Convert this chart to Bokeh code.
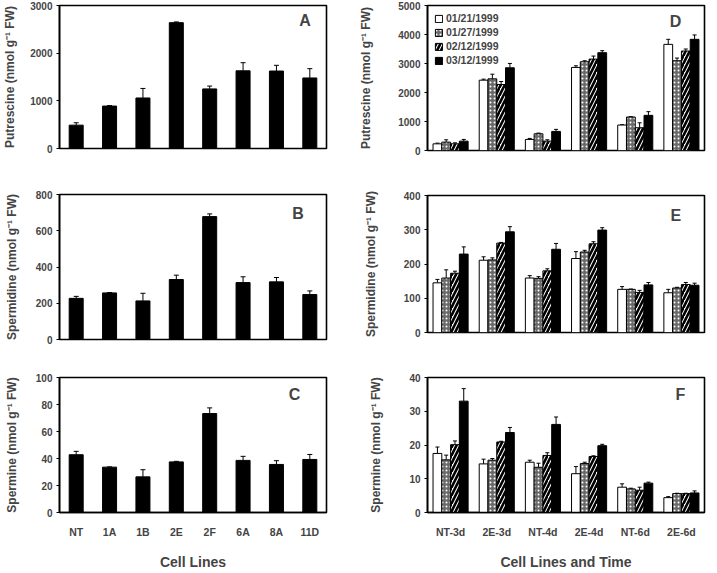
from bokeh.plotting import figure
from bokeh.models import (ColumnDataSource, FactorRange, Range1d, FixedTicker,
                          Whisker, TeeHead, Label, Legend, LegendItem)
from bokeh.transform import dodge
from bokeh.layouts import row, column
from bokeh.embed import file_html
from bokeh.resources import INLINE

FONT = "Liberation Sans"

# ---------------- data: left column (cell lines) ----------------
lines = ["NT", "1A", "1B", "2E", "2F", "6A", "8A", "11D"]
put_a = [490, 890, 1060, 2640, 1250, 1630, 1625, 1480]
put_a_err = [50, 10, 200, 15, 60, 170, 120, 195]
spd_b = [227, 257, 213, 331, 678, 314, 318, 248]
spd_b_err = [11, 2, 42, 24, 15, 32, 24, 20]
spm_c = [42.8, 33.6, 26.4, 37.5, 73.3, 38.6, 35.6, 39.3]
spm_c_err = [2.5, 0.2, 5.3, 0.4, 4.2, 3.0, 2.8, 3.7]

# ---------------- data: right column (cell lines and time) ----------------
groups = ["NT-3d", "2E-3d", "NT-4d", "2E-4d", "NT-6d", "2E-6d"]
dates = ["01/21/1999", "01/27/1999", "02/12/1999", "03/12/1999"]

put_d_jan21 = [230, 2425, 381, 2864, 878, 3660]
put_d_jan27 = [289, 2471, 577, 3060, 1155, 3095]
put_d_feb12 = [231, 2275, 323, 3152, 785, 3430]
put_d_mar12 = [323, 2852, 658, 3372, 1212, 3834]
put_d_jan21_err = [24, 35, 35, 57, 11, 174]
put_d_jan27_err = [80, 160, 23, 35, 11, 92]
put_d_feb12_err = [34, 104, 47, 104, 170, 70]
put_d_mar12_err = [58, 150, 70, 70, 127, 150]

spd_e_jan21 = [145, 211, 159, 216, 126, 116]
spd_e_jan27 = [159, 212, 158, 235, 126, 130]
spd_e_feb12 = [173, 261, 180, 259, 117, 140]
spd_e_mar12 = [229, 294, 243, 299, 139, 138]
spd_e_jan21_err = [10, 10, 7, 20, 8, 10]
spd_e_jan27_err = [24, 6, 5, 5, 1, 2]
spd_e_feb12_err = [6, 2, 6, 6, 6, 6]
spd_e_mar12_err = [21, 15, 17, 7, 7, 6]

spm_f_jan21 = [17.5, 14.4, 14.9, 11.5, 7.5, 4.4]
spm_f_jan27 = [15.6, 15.5, 13.4, 14.5, 7.0, 5.6]
spm_f_feb12 = [20.1, 20.9, 16.9, 16.6, 6.6, 5.6]
spm_f_mar12 = [33.0, 23.7, 26.1, 19.8, 8.7, 5.8]
spm_f_jan21_err = [1.9, 1.4, 0.6, 2.1, 1.0, 0.3]
spm_f_jan27_err = [1.4, 0.5, 1.2, 0.4, 0.2, 0.1]
spm_f_feb12_err = [1.1, 0.2, 0.8, 0.2, 0.9, 0.1]
spm_f_mar12_err = [3.7, 1.5, 2.2, 0.4, 0.3, 0.6]

STYLES = [
    dict(fill_color="white"),
    dict(fill_color="#6a6a6a", hatch_pattern="dot", hatch_color="white",
         hatch_scale=4, hatch_weight=1.2),
    dict(fill_color="white", hatch_pattern="right_diagonal_line",
         hatch_color="black", hatch_scale=8, hatch_weight=2.6),
    dict(fill_color="black"),
]


def base_fig(factors, ytop, yticks, ylabel, width, height, bl, br, bt, bb,
             show_x, xlabel=None, label_standoff=6):
    p = figure(x_range=FactorRange(*factors), y_range=Range1d(0, ytop),
               width=width, height=height, output_backend="svg",
               toolbar_location=None, min_border_left=bl, min_border_right=br,
               min_border_top=bt, min_border_bottom=bb)
    p.grid.visible = False
    p.outline_line_color = "black"
    p.outline_line_width = 1.6
    p.outline_line_alpha = 1
    p.background_fill_color = "white"
    p.border_fill_color = "white"
    ya = p.yaxis[0]
    ya.ticker = FixedTicker(ticks=yticks)
    ya.minor_tick_line_color = None
    ya.major_tick_out = 3
    ya.major_tick_in = 0
    ya.axis_line_width = 1.6
    ya.major_label_text_font = FONT
    ya.major_label_text_font_style = "bold"
    ya.major_label_text_font_size = "10px"
    ya.major_label_standoff = 4
    ya.axis_label = ylabel
    ya.axis_label_text_font = FONT
    ya.axis_label_text_font_style = "bold"
    ya.axis_label_text_font_size = "12px"
    ya.axis_label_standoff = label_standoff
    xa = p.xaxis[0]
    if show_x:
        xa.major_tick_line_color = None
        xa.minor_tick_line_color = None
        xa.axis_line_width = 1.6
        xa.major_label_text_font = FONT
        xa.major_label_text_font_style = "bold"
        xa.major_label_text_font_size = "10.5px"
        xa.major_label_standoff = 7
        xa.axis_label = xlabel
        xa.axis_label_text_font = FONT
        xa.axis_label_text_font_style = "bold"
        xa.axis_label_text_font_size = "14px"
        xa.axis_label_standoff = 13
    else:
        xa.visible = False
    return p


def letter(p, txt, x, y):
    p.add_layout(Label(x=x, y=y, text=txt, text_font=FONT,
                       text_font_style="bold", text_font_size="16px",
                       text_align="center", text_baseline="middle"))


def left_panel(vals, errs, ytop, yticks, ylabel, letter_txt, lx, ly,
               height, bt, bb, ls, show_x=False, xlabel=None):
    p = base_fig(lines, ytop, yticks, ylabel, 356, height, 54, 30, bt, bb,
                 show_x, xlabel, label_standoff=ls)
    src = ColumnDataSource(dict(x=lines, top=vals,
                                up=[v + e for v, e in zip(vals, errs)]))
    p.vbar(x="x", top="top", width=0.42, source=src, fill_color="black",
           line_color="black")
    p.add_layout(Whisker(base="x", upper="up", lower="top", source=src,
                         line_color="black", line_width=1,
                         upper_head=TeeHead(size=5, line_color="black", line_width=1),
                         lower_head=None))
    letter(p, letter_txt, lx, ly)
    return p


def right_panel(series, errs, ytop, yticks, ylabel, letter_txt, lx, ly,
                height, bt, bb, ls, show_x=False, xlabel=None, legend=False):
    p = base_fig(groups, ytop, yticks, ylabel, 353, height, 70, 5, bt, bb,
                 show_x, xlabel, label_standoff=ls)
    offsets = [-0.285, -0.095, 0.095, 0.285]
    items = []
    for i, (vals, er) in enumerate(zip(series, errs)):
        src = ColumnDataSource(dict(x=groups, top=vals,
                                    up=[v + e for v, e in zip(vals, er)]))
        r = p.vbar(x=dodge("x", offsets[i], range=p.x_range), top="top",
                   width=0.19, source=src, line_color="black", line_width=1,
                   **STYLES[i])
        p.add_layout(Whisker(base=dodge("x", offsets[i], range=p.x_range),
                             upper="up", lower="top", source=src,
                             line_color="black", line_width=1,
                             upper_head=TeeHead(size=4, line_color="black", line_width=1),
                             lower_head=None))
        items.append(LegendItem(label=dates[i], renderers=[r]))
    if legend:
        lg = Legend(items=items, location="top_left", border_line_color=None,
                    background_fill_alpha=0, label_text_font=FONT,
                    label_text_font_style="bold", label_text_font_size="10.5px",
                    glyph_width=9, glyph_height=9, label_height=10,
                    label_standoff=3, spacing=2, padding=2, margin=7)
        p.add_layout(lg)
    letter(p, letter_txt, lx, ly)
    return p


YL_PUT = "Putrescine (nmol g\u207b\u00b9 FW)"
YL_SPD = "Spermidine (nmol g\u207b\u00b9 FW)"
YL_SPM = "Spermine (nmol g\u207b\u00b9 FW)"

pA = left_panel(put_a, put_a_err, 3000, [0, 1000, 2000, 3000], YL_PUT,
                "A", 7.36, 2685, 180, 5, 32, 10)
pB = left_panel(spd_b, spd_b_err, 800, [0, 200, 400, 600, 800], YL_SPD,
                "B", 7.15, 695, 180, 14, 21, 14)
pC = left_panel(spm_c, spm_c_err, 100, [0, 20, 40, 60, 80, 100], YL_SPM,
                "C", 7.04, 87.6, 212, 17, 53, 14,
                show_x=True, xlabel="Cell Lines")

pD = right_panel([put_d_jan21, put_d_jan27, put_d_feb12, put_d_mar12],
                 [put_d_jan21_err, put_d_jan27_err, put_d_feb12_err, put_d_mar12_err],
                 5000, [0, 1000, 2000, 3000, 4000, 5000], YL_PUT,
                 "D", 5.37, 4450, 180, 5, 30, 22, legend=True)
pE = right_panel([spd_e_jan21, spd_e_jan27, spd_e_feb12, spd_e_mar12],
                 [spd_e_jan21_err, spd_e_jan27_err, spd_e_feb12_err, spd_e_mar12_err],
                 400, [0, 100, 200, 300, 400], YL_SPD,
                 "E", 5.38, 342, 180, 15, 28, 23)
pF = right_panel([spm_f_jan21, spm_f_jan27, spm_f_feb12, spm_f_mar12],
                 [spm_f_jan21_err, spm_f_jan27_err, spm_f_feb12_err, spm_f_mar12_err],
                 40, [0, 10, 20, 30, 40], YL_SPM,
                 "F", 5.48, 35, 212, 17, 53, 23,
                 show_x=True, xlabel="Cell Lines and Time")

layout = row(column(pA, pB, pC), column(pD, pE, pF))
open("out.html", "w").write(file_html(layout, INLINE))
